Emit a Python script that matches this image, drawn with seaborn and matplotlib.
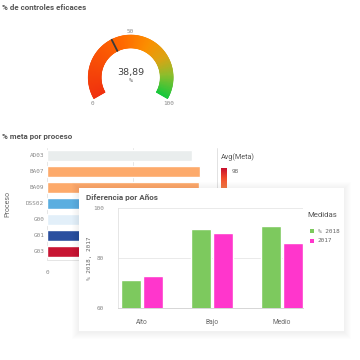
import numpy as np
import pandas as pd
import matplotlib
matplotlib.use("Agg")
import matplotlib.pyplot as plt
import seaborn as sns
from matplotlib.patches import Wedge, Rectangle
from matplotlib.colors import LinearSegmentedColormap

sns.set_theme(style="white")
plt.rcParams['font.family'] = ['DejaVu Sans']

# ---------------- data ----------------
gauge_title = "% de controles eficaces"
gauge_value = 38.89
gauge_ticks = [0, 50, 100]

proc_title = "% meta por proceso"
processes = ["AD03", "BA07", "BA09", "DSS02", "G00", "G01", "G03"]
proc_values = [84.3, 89.0, 88.4, 90.0, 86.0, 82.0, 95.0]
proc_colors = ["#e9eded", "#fdaa6b", "#fdaa6b", "#5aaee0", "#e2eff9", "#2a4f9f", "#c81432"]
proc_xticks = [0, 50]
legend_title = "Avg(Meta)"
legend_max = "98"

card_title = "Diferencia por Años"
levels = ["Alto", "Bajo", "Medio"]
pct_2018 = [71.2, 91.5, 92.7]
val_2017 = [72.8, 90.0, 86.0]
measures = ["% 2018", "2017"]
measure_colors = ["#7dc95e", "#ff36cc"]
card_yticks = [60, 80, 100]
card_ylabel = "% 2018, 2017"
card_legend_title = "Medidas"

W = H = 360
fig = plt.figure(figsize=(3.6, 3.6), dpi=100)
fig.patch.set_facecolor("white")

TITLE = ['Roboto', 'DejaVu Sans']
MONO = ['DejaVu Sans Mono']
GREY = "#8a8a8a"
DARK = "#555555"


def px_axes(x0, y0, x1, y1, **kw):
    return fig.add_axes([x0 / W, 1 - y1 / H, (x1 - x0) / W, (y1 - y0) / H], **kw)


def ftext(x, y, s, **kw):
    return fig.text(x / W, 1 - y / H, s, **kw)


# ---------------- gauge ----------------
ftext(2, 8, gauge_title, fontsize=5.7, fontweight='bold', color=DARK,
      family=TITLE, ha='left', va='center')

cx, cy = 130.7, 77.5
gax = px_axes(80, 25, 180, 125)
gax.set_xlim(80 - cx, 180 - cx)
gax.set_ylim(cy - 125, cy - 25)
gax.set_aspect('equal')
gax.axis('off')

cmap = LinearSegmentedColormap.from_list("g", [
    (0.0, "#f0300e"), (0.45, "#ff6a00"), (0.62, "#fb9000"),
    (0.75, "#dca414"), (0.86, "#8fbd2c"), (1.0, "#18c83c")])
r_out, r_w = 42.5, 13
START, SPAN = 210.0, 240.0


def theta(v):
    return START - v / 100.0 * SPAN


n = 300
vals = np.linspace(0, 100, n + 1)
for a, b in zip(vals[:-1], vals[1:]):
    c = cmap((a + b) / 200)
    gax.add_patch(Wedge((0, 0), r_out, theta(b), theta(a),
                        width=r_w, facecolor=c, edgecolor=c, lw=0.4))

ang = np.deg2rad(theta(gauge_value))
gax.plot([29 * np.cos(ang), 43 * np.cos(ang)], [29 * np.sin(ang), 43 * np.sin(ang)],
         color="#3a3a3a", lw=1.3, solid_capstyle='butt')

gax.text(0, 4.8, f"{gauge_value:.2f}".replace('.', ','), ha='center', va='center',
         fontsize=6.8, color="#404040")
gax.text(0, -3.5, "%", ha='center', va='center', fontsize=4.5, color="#404040", family=MONO)
for t in gauge_ticks:
    la = np.deg2rad(90 + (theta(t) - 90) * 1.033)
    gax.text(46 * np.cos(la), 46 * np.sin(la), str(t), ha='center', va='center',
             fontsize=4.3, color=GREY, family=MONO)

# ---------------- horizontal bar chart ----------------
ftext(2, 137, proc_title, fontsize=5.7, fontweight='bold', color=DARK,
      family=TITLE, ha='left', va='center')

hax = px_axes(47, 148, 217, 260)
dfp = pd.DataFrame({"Proceso": processes, "Meta": proc_values})
sns.barplot(data=dfp, x="Meta", y="Proceso", hue="Proceso", orient='h',
            palette=dict(zip(processes, proc_colors)), width=0.69, legend=False,
            saturation=1, ax=hax)
hax.set_xlim(0, 98.8)
hax.set_ylim(6.56, -0.44)
hax.set_xticks(proc_xticks)
hax.grid(axis='x', color="#e2e2e2", lw=0.6)
hax.set_axisbelow(True)
for s in ["top", "right", "left"]:
    hax.spines[s].set_visible(False)
hax.spines["bottom"].set_color("#e0e0e0")
hax.spines["bottom"].set_linewidth(0.6)
hax.tick_params(axis='x', length=0, pad=7.5, labelsize=4.3, labelcolor=GREY)
hax.tick_params(axis='y', length=0, pad=2, labelsize=4.3, labelcolor=GREY)
for lab in hax.get_xticklabels() + hax.get_yticklabels():
    lab.set_family(MONO)
hax.set_xlabel("")
hax.set_ylabel("")
ftext(8.3, 204, "Proceso", rotation=90, fontsize=5, color="#666666", ha='center',
      va='center', family=TITLE)

# overlay axes for legend bits, shadow and card
oax = px_axes(0, 0, 360, 360)
oax.set_xlim(0, 360)
oax.set_ylim(360, 0)
oax.axis('off')
oax.patch.set_alpha(0)
oax.set_zorder(1)
oax.plot([217.3, 217.3], [148, 188], color="#dddddd", lw=0.6, zorder=1)
grad = np.linspace(0, 1, 50).reshape(-1, 1)
ccm = LinearSegmentedColormap.from_list("c", ["#c8102e", "#f04a2a", "#f47a45"])
oax.imshow(grad, cmap=ccm, extent=(220.7, 226.7, 188, 168), aspect='auto', zorder=1)
ftext(220.5, 157.3, legend_title, fontsize=5.2, color=DARK, ha='left', va='center', family=TITLE)
ftext(231.5, 171.5, legend_max, fontsize=4.3, color="#666666", ha='left', va='center', family=MONO)

# card shadow + card
x0, y0, x1, y1 = 79, 188, 344, 331
for k in range(1, 8):
    oax.add_patch(Rectangle((x0 - k, y0 - k + 1), (x1 - x0) + 2 * k, (y1 - y0) + 2 * k,
                            facecolor="black", edgecolor='none', alpha=0.009, zorder=2))
oax.add_patch(Rectangle((x0, y0), x1 - x0, y1 - y0, facecolor="white", edgecolor='none', zorder=3))
oax.add_patch(Rectangle((310, 229), 4, 4, facecolor=measure_colors[0], edgecolor='none', zorder=4))
oax.add_patch(Rectangle((310, 239), 4, 4, facecolor=measure_colors[1], edgecolor='none', zorder=4))

# ---------------- card bar chart ----------------
ftext(86, 197, card_title, fontsize=5.9, fontweight='bold', color=DARK,
      family=TITLE, ha='left', va='center')

cax = px_axes(118, 208, 303, 308)
cax.set_zorder(2)
cax.patch.set_alpha(0)
dfc = pd.DataFrame({"Nivel": levels * 2,
                    "Valor": pct_2018 + val_2017,
                    "Medida": [measures[0]] * 3 + [measures[1]] * 3})
sns.barplot(data=dfc, x="Nivel", y="Valor", hue="Medida", palette=measure_colors,
            width=0.63, gap=0.09, saturation=1, legend=False, ax=cax)
cax.set_ylim(60, 100)
cax.set_xlim(-0.343, 2.3)
cax.set_yticks(card_yticks)
cax.grid(axis='y', color="#e6e6e6", lw=0.6)
cax.set_axisbelow(True)
for s in ["top", "right"]:
    cax.spines[s].set_visible(False)
cax.spines["left"].set_color("#e2e2e2")
cax.spines["left"].set_linewidth(0.6)
cax.spines["bottom"].set_color("#d0d0d0")
cax.spines["bottom"].set_linewidth(0.6)
cax.tick_params(axis='y', length=0, pad=10, labelsize=4.3, labelcolor=GREY)
cax.tick_params(axis='x', length=0, pad=8, labelsize=4.8, labelcolor="#666666")
for lab in cax.get_yticklabels():
    lab.set_family(MONO)
for lab in cax.get_xticklabels():
    lab.set_family(TITLE)
cax.set_xlabel("")
cax.set_ylabel("")
ftext(90, 258, card_ylabel, rotation=90, fontsize=4.3, color="#666666", ha='center',
      va='center', family=MONO)

ftext(307, 215, card_legend_title, fontsize=5.6, color=DARK, ha='left', va='center', family=TITLE)
ftext(317.5, 231, measures[0], fontsize=4.3, color="#666666", ha='left', va='center', family=MONO)
ftext(317.5, 241, measures[1], fontsize=4.3, color="#666666", ha='left', va='center', family=MONO)

fig.savefig("out.png", dpi=100, facecolor="white")
